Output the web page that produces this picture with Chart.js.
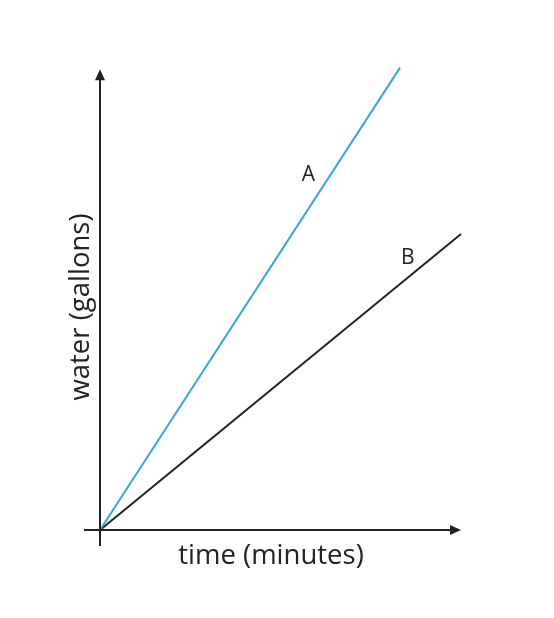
<!DOCTYPE html>
<html>
<head>
<meta charset="utf-8">
<script src="https://cdn.jsdelivr.net/npm/chart.js@4"></script>
<style>
html,body{margin:0;padding:0;background:#fff;}
#wrap{width:554px;height:618px;}
</style>
</head>
<body>
<div id="wrap"><canvas id="c" width="554" height="618"></canvas></div>
<script>
// Data (arbitrary units: 1 unit ~ 16 px)
const seriesNames = ["A", "B"];
const lineA_x = [0, 18.75];
const lineA_y = [0, 28.9];
const lineB_x = [0, 22.56];
const lineB_y = [0, 18.5];
const xTitle = "time (minutes)";
const yTitle = "water (gallons)";

const FONT = "'Open Sans', 'DejaVu Sans', sans-serif";
const INK = "#222222";

const toPts = (xs, ys) => xs.map((x, i) => ({x: x, y: ys[i]}));

const axesPlugin = {
  id: 'arrowAxes',
  afterDatasetsDraw(chart) {
    const ctx = chart.ctx;
    const ca = chart.chartArea;
    const xs = chart.scales.x, ys = chart.scales.y;
    const x0 = xs.getPixelForValue(0), y0 = ys.getPixelForValue(0);
    const xL = xs.getPixelForValue(-1), xR = xs.getPixelForValue(xs.max);
    const yB = ys.getPixelForValue(-1), yT = ys.getPixelForValue(28.8);
    ctx.save();
    ctx.strokeStyle = INK; ctx.fillStyle = INK; ctx.lineWidth = 2;
    // x axis
    ctx.beginPath(); ctx.moveTo(xL, y0); ctx.lineTo(xR - 8, y0); ctx.stroke();
    ctx.beginPath(); ctx.moveTo(xR, y0); ctx.lineTo(xR - 11, y0 - 5); ctx.lineTo(xR - 11, y0 + 5); ctx.closePath(); ctx.fill();
    // y axis
    ctx.beginPath(); ctx.moveTo(x0, yB); ctx.lineTo(x0, yT + 8); ctx.stroke();
    ctx.beginPath(); ctx.moveTo(x0, yT); ctx.lineTo(x0 - 5, yT + 11); ctx.lineTo(x0 + 5, yT + 11); ctx.closePath(); ctx.fill();
    // axis titles
    ctx.font = "27.5px " + FONT;
    ctx.textAlign = 'center'; ctx.textBaseline = 'middle';
    ctx.fillText(xTitle, ca.left + 171, ca.bottom + 26);
    ctx.save();
    ctx.translate(ca.left - 19, ca.bottom - 223);
    ctx.rotate(-Math.PI / 2);
    ctx.fillText(yTitle, 0, 0);
    ctx.restore();
    // series labels
    ctx.font = "21px " + FONT;
    const lab = [
      {ds: 0, t: 0.768, dx: -22, dy: 0},
      {ds: 1, t: 0.85, dx: 1, dy: -20}
    ];
    lab.forEach(l => {
      const d = chart.data.datasets[l.ds].data;
      const px = xs.getPixelForValue(d[0].x + (d[1].x - d[0].x) * l.t);
      const py = ys.getPixelForValue(d[0].y + (d[1].y - d[0].y) * l.t);
      ctx.fillText(seriesNames[l.ds], px + l.dx, py + l.dy);
    });
    ctx.restore();
  }
};

new Chart(document.getElementById('c'), {
  type: 'line',
  data: {
    datasets: [
      {label: seriesNames[0], data: toPts(lineA_x, lineA_y), borderColor: '#3aa6cf', borderWidth: 2, pointRadius: 0, fill: false, clip: false},
      {label: seriesNames[1], data: toPts(lineB_x, lineB_y), borderColor: '#222222', borderWidth: 2, pointRadius: 0, fill: false, clip: false}
    ]
  },
  options: {
    responsive: false,
    animation: false,
    layout: {padding: {left: 100, right: 93, top: 66, bottom: 88}},
    plugins: {legend: {display: false}, tooltip: {enabled: false}},
    scales: {
      x: {
        type: 'linear', min: 0, max: 22.56,
        grid: {display: false, drawTicks: false}, border: {display: false}, ticks: {display: false},
        title: {display: false}
      },
      y: {
        type: 'linear', min: 0, max: 29,
        grid: {display: false, drawTicks: false}, border: {display: false}, ticks: {display: false},
        title: {display: false}
      }
    }
  },
  plugins: [axesPlugin]
});
</script>
</body>
</html>
